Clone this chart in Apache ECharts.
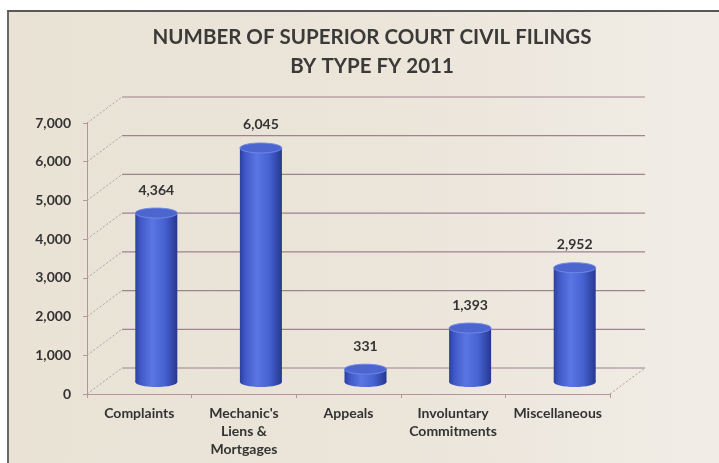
<!DOCTYPE html>
<html>
<head>
<meta charset="utf-8">
<script src="https://cdn.jsdelivr.net/npm/echarts@6/dist/echarts.min.js"></script>
<style>
  * { margin: 0; padding: 0; }
  body { background: #ffffff; }
  #main {
    position: absolute; left: 7px; top: 10px; width: 712px; height: 453px;
    box-sizing: border-box;
    border-top: 2px solid #5a5856; border-left: 2px solid #6a6866;
    background: linear-gradient(90deg, #e9e2d5 0%, #ebe5da 55%, #f1ede6 100%);
  }
</style>
</head>
<body>
<div id="main"></div>
<script>
// 分类、数值、刻度
var categories = ['Complaints', "Mechanic's\nLiens &\nMortgages", 'Appeals', 'Involuntary\nCommitments', 'Miscellaneous'];
var filings = [4364, 6045, 331, 1393, 2952];
var yTicks = [0, 1000, 2000, 3000, 4000, 5000, 6000, 7000];

var font = 'Lato';
var depthX = 35, depthY = -26;   // 后墙偏移
var barX = 17, barY = -12;       // 柱子在中间深度

var chart = echarts.init(document.getElementById('main'));

function wallItem(params, api) {
  var cs = params.coordSys;
  var y = api.coord([0, api.value(0)])[1];
  var x0 = cs.x, x1 = cs.x + cs.width;
  var children = [
    { type: 'line', shape: { x1: x0, y1: y, x2: x0 + depthX, y2: y + depthY },
      style: { stroke: '#aaa09c', lineWidth: 1, lineDash: [2, 2] } },
    { type: 'line', shape: { x1: x0 + depthX, y1: y + depthY, x2: x1 + depthX, y2: y + depthY },
      style: { stroke: '#a08290', lineWidth: 1.2 } }
  ];
  if (api.value(0) === 0) {
    children.push({ type: 'line', shape: { x1: x1, y1: y, x2: x1 + depthX, y2: y + depthY },
      style: { stroke: '#aaa09c', lineWidth: 1, lineDash: [2, 2] } });
  }
  return { type: 'group', children: children };
}

function barItem(params, api) {
  var i = api.value(0), v = api.value(1);
  var top = api.coord([i, v]);
  var base = api.coord([i, 0]);
  var cx = top[0] + barX;
  var ty = top[1] + barY, by = base[1] + barY;
  var rx = 21, ry = 5;
  var body = new echarts.graphic.LinearGradient(0, 0, 1, 0, [
    { offset: 0, color: '#2c3f9e' },
    { offset: 0.12, color: '#3f58c6' },
    { offset: 0.4, color: '#5a76e2' },
    { offset: 0.7, color: '#4662d2' },
    { offset: 1, color: '#26378e' }
  ]);
  return {
    type: 'group',
    children: [
      { type: 'ellipse', shape: { cx: cx, cy: by, rx: rx, ry: ry }, style: { fill: body } },
      { type: 'rect', shape: { x: cx - rx, y: ty, width: rx * 2, height: by - ty }, style: { fill: body } },
      { type: 'ellipse', shape: { cx: cx, cy: ty, rx: rx, ry: ry },
        style: { fill: '#4d66cf', stroke: '#6f88e6', lineWidth: 1 } },
      { type: 'text', x: cx, y: ty - ry - 11,
        style: { text: echarts.format.addCommas(v), align: 'center', verticalAlign: 'bottom',
          fontFamily: font, fontWeight: 'bold', fontSize: 14, fill: '#333333' } }
    ]
  };
}

chart.setOption({
  backgroundColor: 'transparent',
  animation: false,
  title: {
    text: 'NUMBER OF SUPERIOR COURT CIVIL FILINGS\nBY TYPE FY 2011',
    left: 358, top: 6, textAlign: 'center',
    textStyle: { fontFamily: font, fontWeight: 'bold', fontSize: 20.5, color: '#3b3a38', lineHeight: 29 }
  },
  grid: { left: 78, right: 109, top: 111, bottom: 69 },
  xAxis: {
    type: 'category',
    data: categories,
    axisLine: { lineStyle: { color: '#b9929f', width: 1.2 } },
    axisTick: { show: true, length: 4, lineStyle: { color: '#b9929f' } },
    axisLabel: { fontFamily: font, fontWeight: 'bold', fontSize: 14, color: '#333333',
      lineHeight: 18, margin: 10, interval: 0 }
  },
  yAxis: {
    type: 'value', min: 0, max: 7000, interval: 1000,
    axisLine: { show: true, lineStyle: { color: '#c48a9c', width: 1 } },
    axisTick: { show: true, length: 4, lineStyle: { color: '#b9929f' } },
    splitLine: { show: false },
    axisLabel: { fontFamily: font, fontWeight: 'bold', fontSize: 14, color: '#333333', margin: 16,
      formatter: function (v) { return echarts.format.addCommas(v); } }
  },
  series: [
    {
      type: 'custom', renderItem: wallItem, silent: true, z: 1,
      data: yTicks.map(function (t) { return [t]; }),
      encode: { y: 0 }
    },
    {
      type: 'custom', renderItem: barItem, z: 3,
      data: filings.map(function (v, i) { return [i, v]; }),
      encode: { x: 0, y: 1 }
    }
  ]
});
</script>
</body>
</html>
